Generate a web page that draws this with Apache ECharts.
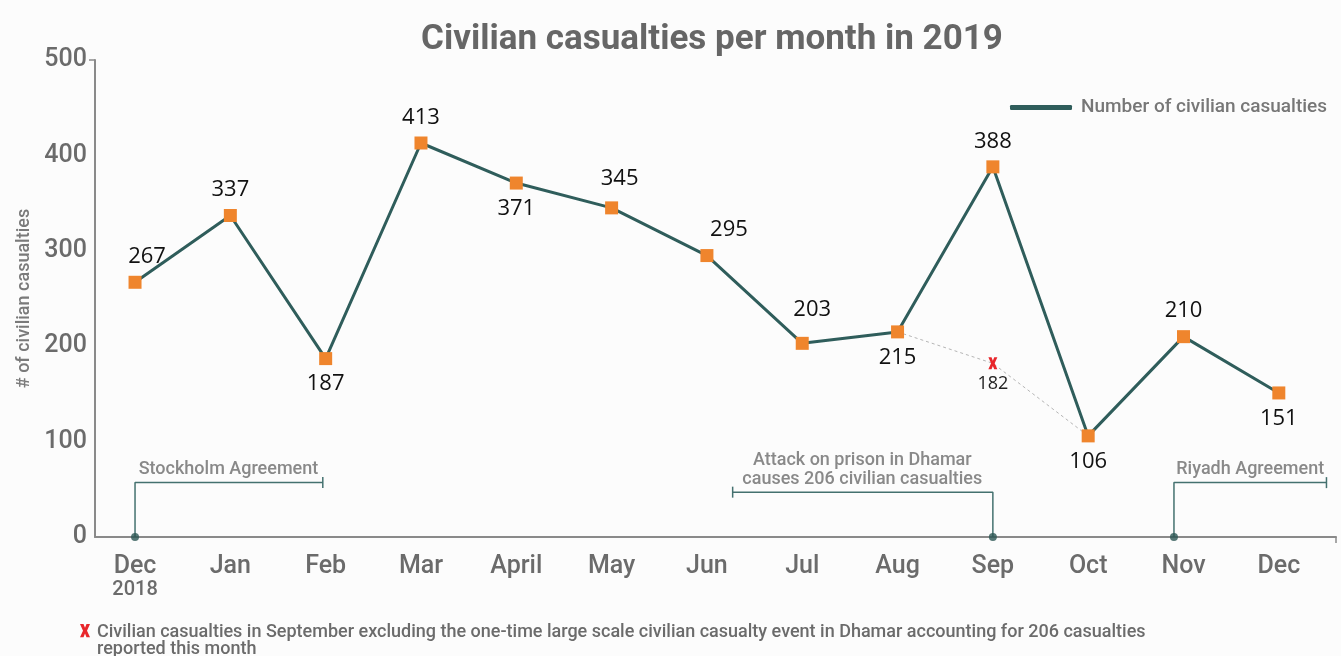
<!DOCTYPE html>
<html>
<head>
<meta charset="utf-8">
<script src="https://cdn.jsdelivr.net/npm/echarts@6/dist/echarts.min.js"></script>
<style>
html,body{margin:0;padding:0;background:#fcfcfc;}
#chart{width:1341px;height:656px;}
</style>
</head>
<body>
<div id="chart"></div>
<script>
// ---- data ----
const months = ['Dec', 'Jan', 'Feb', 'Mar', 'April', 'May', 'Jun', 'Jul', 'Aug', 'Sep', 'Oct', 'Nov', 'Dec'];
const casualties = [267, 337, 187, 413, 371, 345, 295, 203, 215, 388, 106, 210, 151];
const labelSide = ['top', 'top', 'bottom', 'top', 'bottom', 'top', 'top', 'top', 'bottom', 'top', 'bottom', 'top', 'bottom'];
const septExcluding = 182;           // Sep value excluding Dhamar event
const yTicks = [0, 100, 200, 300, 400, 500];
const seriesName = 'Number of civilian casualties';
const footnote = 'Civilian casualties in September excluding the one-time large scale civilian casualty event in Dhamar accounting for 206 casualties\nreported this month';

const TEAL = '#2f5d5b';
const ORANGE = '#ef852d';
const GREY = '#6b6b6b';
const XPATH = 'path://M0,0L3.5,0L5,4L6.5,0L10,0L7,7L10,14L6.5,14L5,10L3.5,14L0,14L3,7Z';
const XPOLY = [[0,0],[3.5,0],[5,4],[6.5,0],[10,0],[7,7],[10,14],[6.5,14],[5,10],[3.5,14],[0,14],[3,7]];

const labelOffsets = [[12, 0], [0, 0], [0, 0], [0, 0], [0, 0], [8, -4], [22, 0], [10, -8], [0, 0], [0, 0], [0, 0], [0, 0], [0, 0]];

const mainData = casualties.map((v, i) => ({
  value: [i, v],
  label: { position: labelSide[i], offset: labelOffsets[i] }
}));

const annotLine = { color: '#44716f', width: 1.5 };
function bracket(pts) {
  return pts.map((p, k) => k === pts.length - 1
    ? { value: p, symbol: 'rect', symbolSize: [1.5, 11] }
    : { value: p });
}

const chart = echarts.init(document.getElementById('chart'), null, { renderer: 'canvas' });
chart.setOption({
  backgroundColor: '#fcfcfc',
  animation: false,
  title: {
    text: 'Civilian casualties per month in 2019',
    left: 707, top: 18, textAlign: 'center',
    textStyle: { fontFamily: 'Roboto', fontWeight: 'bold', fontSize: 35, color: '#666666' }
  },
  legend: {
    data: [{ name: seriesName, icon: 'roundRect', itemStyle: { color: TEAL } }],
    left: 1005, top: 93, itemWidth: 62, itemHeight: 5,
    textStyle: { fontFamily: 'Roboto', fontWeight: 500, fontSize: 19, color: '#777', padding: [0, 0, 0, 4] }
  },
  grid: { left: 95, right: 5, top: 60, bottom: 119, containLabel: false },
  xAxis: {
    type: 'value', min: -0.42, max: 12.6,
    axisLine: { show: true, lineStyle: { color: '#8a8a8a', width: 2 } },
    axisTick: { show: true, customValues: [12.6], length: 6, lineStyle: { color: '#8a8a8a', width: 1.5 } },
    splitLine: { show: false },
    axisLabel: {
      customValues: months.map((m, i) => i),
      margin: 17,
      fontFamily: 'Roboto', fontWeight: 500, fontSize: 25, color: GREY,
      formatter: v => (v === 0 ? months[0] + '\n{s|2018}' : months[v]),
      rich: { s: { fontFamily: 'Roboto', fontWeight: 500, fontSize: 20, color: GREY, lineHeight: 21 } }
    }
  },
  yAxis: {
    type: 'value', min: yTicks[0], max: yTicks[yTicks.length - 1], interval: 100,
    name: '# of civilian casualties', nameLocation: 'middle', nameGap: 57,
    nameTextStyle: { fontFamily: 'Roboto', fontWeight: 500, fontSize: 18, color: '#7a7a7a' },
    axisLine: { show: true, onZero: false, lineStyle: { color: '#8a8a8a', width: 2 } },
    axisTick: { show: true, customValues: [500], length: 6, lineStyle: { color: '#8a8a8a', width: 1.5 } },
    axisLabel: { margin: 8, fontFamily: 'Roboto', fontWeight: 500, fontSize: 25, color: GREY },
    splitLine: { show: true, showMinLine: false, showMaxLine: false, lineStyle: { color: '#9aa8a8', type: [3, 3], width: 1 } }
  },
  series: [
    {
      name: 'Sep excl', type: 'line', z: 1, silent: true,
      symbol: 'none', showSymbol: true,
      lineStyle: { color: '#b5b5b5', width: 1, type: [3, 3] },
      data: [
        { value: [8, casualties[8]] },
        { value: [9, septExcluding], symbol: XPATH, symbolSize: [9, 12], symbolKeepAspect: false,
          itemStyle: { color: '#e8262b' },
          label: { show: true, position: 'bottom', distance: 6, fontFamily: 'Open Sans', fontSize: 18, color: '#222',
                   formatter: p => p.value[1] } },
        { value: [10, casualties[10]] }
      ]
    },
    {
      name: seriesName, type: 'line', z: 3,
      symbol: 'rect', symbolSize: 13,
      itemStyle: { color: ORANGE },
      lineStyle: { color: TEAL, width: 3 },
      label: { show: true, fontFamily: 'Open Sans', fontSize: 22, color: '#111', distance: 8,
               formatter: p => p.value[1] },
      data: mainData
    },
    { type: 'line', silent: true, symbol: 'none', showSymbol: true, lineStyle: annotLine, itemStyle: { color: annotLine.color },
      data: bracket([[0, 0], [0, 57], [1.97, 57]]) },
    { type: 'line', silent: true, symbol: 'none', showSymbol: true, lineStyle: annotLine, itemStyle: { color: annotLine.color },
      data: bracket([[9, 0], [9, 47], [6.27, 47]]) },
    { type: 'line', silent: true, symbol: 'none', showSymbol: true, lineStyle: annotLine, itemStyle: { color: annotLine.color },
      data: bracket([[10.9, 0], [10.9, 57], [12.5, 57]]) },
    { type: 'scatter', silent: true, z: 4, symbol: 'circle', symbolSize: 8, itemStyle: { color: '#2c5654' },
      data: [[0, 0], [9, 0], [10.9, 0]] },
    { type: 'scatter', silent: true, symbolSize: 0,
      label: { show: true, position: [0, 0], align: 'center', verticalAlign: 'middle',
               fontFamily: 'Roboto', fontWeight: 500, fontSize: 18, color: GREY, lineHeight: 19,
               formatter: p => p.data.text },
      data: [
        { value: [0.98, 71], text: 'Stockholm Agreement' },
        { value: [7.63, 70.5], text: 'Attack on prison in Dhamar\ncauses 206 civilian casualties' },
        { value: [11.7, 71], text: 'Riyadh Agreement' }
      ] }
  ],
  graphic: [
    { type: 'polygon', x: 80, y: 624, scaleX: 1.0, scaleY: 0.95, shape: { points: XPOLY },
      style: { fill: '#e8262b' } },
    { type: 'text', left: 97, top: 623,
      style: { text: footnote, font: '500 18px Roboto', fill: GREY, lineHeight: 17 } }
  ]
});
</script>
</body>
</html>
